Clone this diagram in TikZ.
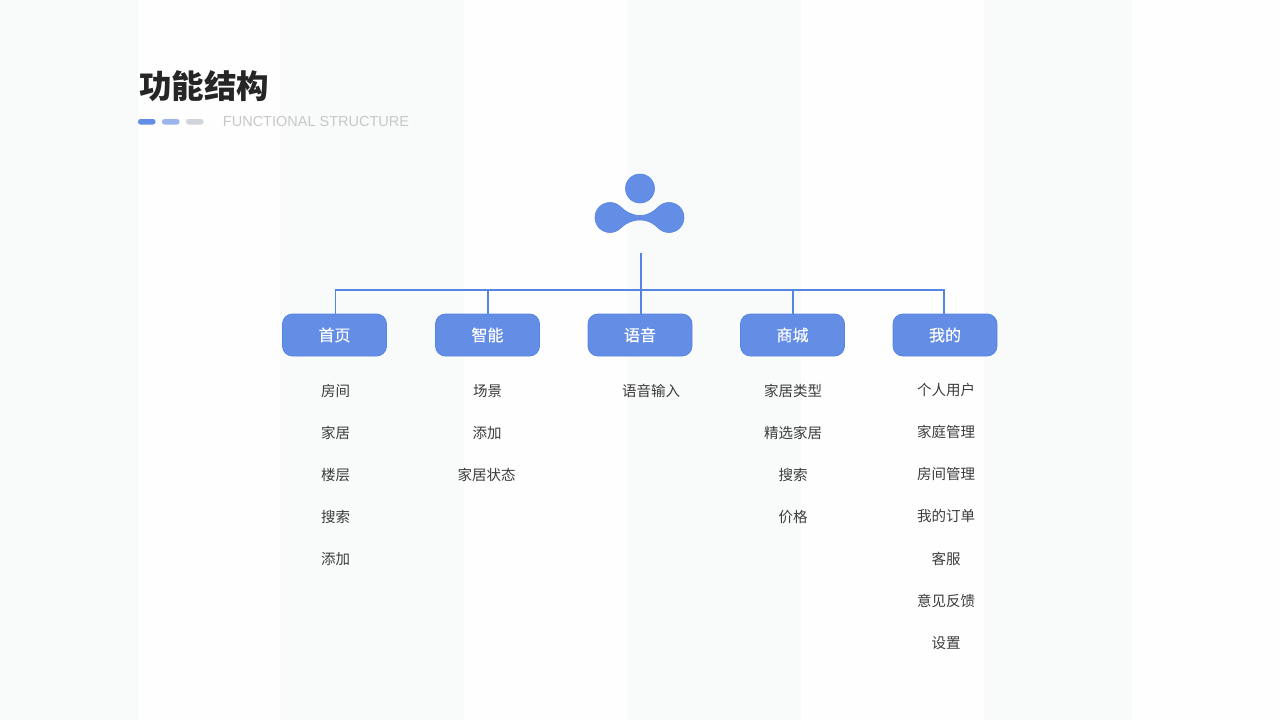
\documentclass[tikz,border=0pt]{standalone}
\usepackage{fontspec}
\setmainfont{Noto Sans CJK SC}
\newfontfamily\latinf{Liberation Sans}
\newfontfamily\medf[FakeBold=0.25]{Noto Sans CJK SC}
\definecolor{band}{HTML}{F9FBFB}
\definecolor{pagew}{HTML}{FEFEFE}
\definecolor{blu}{HTML}{648DE5}
\definecolor{edgeb}{HTML}{5585E2}
\definecolor{ink}{HTML}{3C3C3C}
\tikzset{
  x=1pt,y=-1pt,
  bandr/.style={fill=band,draw=none},
  cat/.style={draw=edgeb,fill=blu,line width=0.8pt,rounded corners=10pt,minimum width=104pt,minimum height=42pt,inner sep=0pt,text=white,font=\medf\fontsize{16}{17}\selectfont},
  lbl/.style={text=ink,inner sep=0pt,font=\fontsize{14.5}{15}\selectfont},
  wire/.style={draw=edgeb,line width=1.2pt},
  dot/.style={line width=0pt,rounded corners=2.5pt},
  icon/.style={fill=blu,draw=edgeb,line width=0.6pt}
}
\begin{document}
\begin{tikzpicture}
\useasboundingbox (0,0) rectangle (1280,720);
\fill[pagew] (0,0) rectangle (1280,720);
\fill[bandr] (0,0) rectangle (138,720);
\fill[bandr] (280,0) rectangle (464,720);
\fill[bandr] (627,0) rectangle (801,720);
\fill[bandr] (984,0) rectangle (1132,720);
% title
\node[anchor=center,inner sep=0pt,text=black!85,font=\fontsize{32.5}{34}\selectfont\bfseries] (title) at (204,86) {功能结构};
\fill[dot,fill=blu] (138,119) rectangle (155.500,124.500);
\fill[dot,fill=blu!65] (162,119) rectangle (179.500,124.500);
\fill[dot,fill=blu!25!gray!35] (186,119) rectangle (203.500,124.500);
\node[anchor=center,inner sep=0pt,text=black!22,font=\latinf\fontsize{14.5}{16}\selectfont] (sub) at (316,121.500) {FUNCTIONAL STRUCTURE};
% icon
\draw[icon] (640,188.500) circle[radius=14.500];
\draw[icon] (610,202.500) .. controls (614,202.500) and (617.800,204.100) .. (620.600,206.900)
  .. controls (626,212) and (632,215.500) .. (640,215.500)
  .. controls (648,215.500) and (653,212) .. (658.400,206.900)
  .. controls (661.200,204.100) and (665,202.500) .. (669,202.500)
  .. controls (677.300,202.500) and (684,209.200) .. (684,217.500)
  .. controls (684,225.800) and (677.300,232.500) .. (669,232.500)
  .. controls (665,232.500) and (661.200,230.900) .. (658.400,228.100)
  .. controls (653,223) and (648,220) .. (640,220)
  .. controls (632,220) and (626,223) .. (620.600,228.100)
  .. controls (617.800,230.900) and (614,232.500) .. (610,232.500)
  .. controls (601.700,232.500) and (595,225.800) .. (595,217.500)
  .. controls (595,209.200) and (601.700,202.500) .. (610,202.500) -- cycle;
% categories
\node[cat] (c1) at (334.500,335) {首页};
\node[cat] (c2) at (487.500,335) {智能};
\node[cat] (c3) at (640,335) {语音};
\node[cat] (c4) at (792.500,335) {商城};
\node[cat] (c5) at (945,335) {我的};
% connectors
\coordinate (top) at (641,253);
\coordinate (hub) at (641,290);
\coordinate (busl) at (335.500,290);
\coordinate (busr) at (944,290);
\coordinate (d2) at (488,290);
\coordinate (d4) at (793,290);
\draw[wire] (top) -- (hub);
\draw[wire] (c1.north -| busl) -- (busl) -- (busr) -- (c5.north -| busr);
\draw[wire] (d2) -- (d2 |- c2.north);
\draw[wire] (hub) -- (hub |- c3.north);
\draw[wire] (d4) -- (d4 |- c4.north);
% lists
\node[lbl] (a1) at (335.500,391) {房间};
\node[lbl] (a2) at (335.500,433) {家居};
\node[lbl] (a3) at (335.500,475) {楼层};
\node[lbl] (a4) at (335.500,517) {搜索};
\node[lbl] (a5) at (335.500,559) {添加};
\node[lbl] (b1) at (487.500,391) {场景};
\node[lbl] (b2) at (487,433) {添加};
\node[lbl] (b3) at (486.500,475) {家居状态};
\node[lbl] (d1) at (651,391) {语音输入};
\node[lbl] (e1) at (793,391) {家居类型};
\node[lbl] (e2) at (793,433) {精选家居};
\node[lbl] (e3) at (793,475) {搜索};
\node[lbl] (e4) at (793,517) {价格};
\node[lbl] (f1) at (946,390) {个人用户};
\node[lbl] (f2) at (946,432) {家庭管理};
\node[lbl] (f3) at (946,474) {房间管理};
\node[lbl] (f4) at (946,516) {我的订单};
\node[lbl] (f5) at (946,559) {客服};
\node[lbl] (f6) at (946,601) {意见反馈};
\node[lbl] (f7) at (946,643) {设置};
\end{tikzpicture}
\end{document}
